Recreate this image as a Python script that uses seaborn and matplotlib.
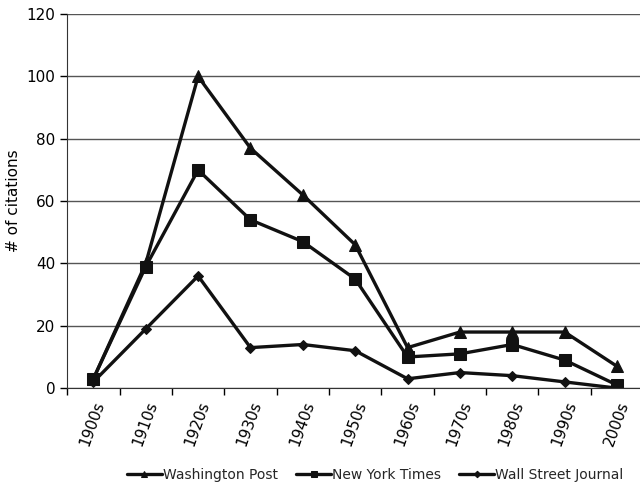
import seaborn as sns
import matplotlib.pyplot as plt
import pandas as pd

decades = ['1900s', '1910s', '1920s', '1930s', '1940s', '1950s',
           '1960s', '1970s', '1980s', '1990s', '2000s']
washington_post = [3, 40, 100, 77, 62, 46, 13, 18, 18, 18, 7]
new_york_times = [3, 39, 70, 54, 47, 35, 10, 11, 14, 9, 1]
wall_street_journal = [2, 19, 36, 13, 14, 12, 3, 5, 4, 2, 0]

sns.set_style('white')
plt.rcParams['font.family'] = ['DejaVu Sans']

data = pd.DataFrame({
    'pos': list(range(len(decades))) * 3,
    'citations': washington_post + new_york_times + wall_street_journal,
    'paper': (['Washington Post'] * len(decades) + ['New York Times'] * len(decades)
              + ['Wall Street Journal'] * len(decades)),
})

fig = plt.figure(figsize=(6.4, 4.87), dpi=100)
ax = fig.add_axes([0.105, 0.203, 0.9, 0.768])

markers = {'Washington Post': '^', 'New York Times': 's', 'Wall Street Journal': 'D'}
sizes = {'Washington Post': 8, 'New York Times': 8, 'Wall Street Journal': 5.5}
for paper, grp in data.groupby('paper', sort=False):
    sns.lineplot(data=grp, x='pos', y='citations', ax=ax, color='#111111',
                 linewidth=2.4, marker=markers[paper], markersize=sizes[paper],
                 markeredgecolor='#111111', label=paper)

ax.set_xlim(-0.5, 10.5)
ax.set_ylim(0, 120)
ax.set_yticks(range(0, 121, 20))
ax.yaxis.grid(True, color='#555555', linewidth=1)
ax.set_axisbelow(True)
ax.set_xticks(range(len(decades)))
ax.set_xticklabels(decades, rotation=70, ha='right', rotation_mode='anchor', fontsize=11)
ax.tick_params(axis='x', length=0, pad=8)
ax.set_xticks([i - 0.5 for i in range(len(decades) + 1)], minor=True)
ax.tick_params(axis='x', which='minor', length=5, width=1, color='#333333', direction='out', bottom=True)
ax.tick_params(axis='y', length=5, width=1, color='#333333', direction='out', left=True, labelsize=11)
ax.tick_params(colors='black', which='both', axis='both', labelcolor='black')
for s in ['top', 'right']:
    ax.spines[s].set_visible(False)
ax.spines['left'].set_color('#333333')
ax.spines['bottom'].set_color('#333333')
ax.set_xlabel('')
ax.set_ylabel('# of citations', fontsize=11, color='black')

ax.legend(loc='center', bbox_to_anchor=(0.535, -0.232), ncol=3, frameon=False,
          fontsize=10, handlelength=2.5, columnspacing=1.3, handletextpad=0.1,
          markerscale=0.6)

fig.savefig('out.png', dpi=100)
